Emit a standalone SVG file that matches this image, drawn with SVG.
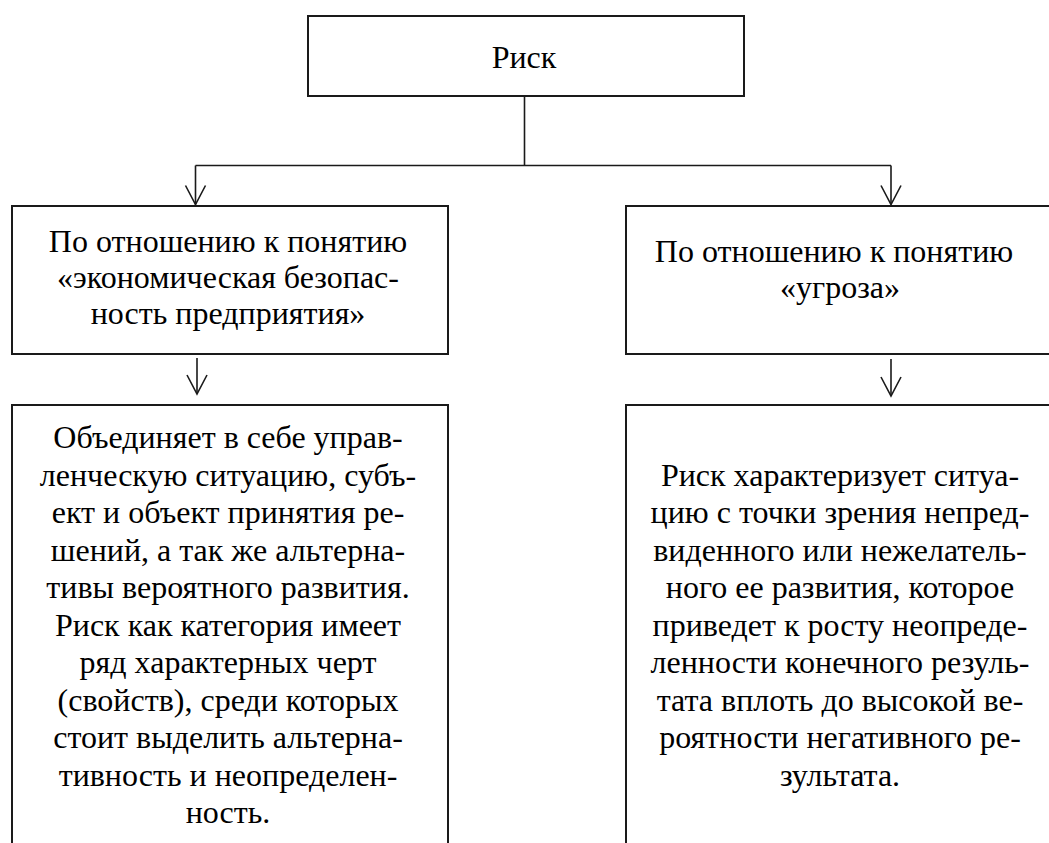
<svg xmlns="http://www.w3.org/2000/svg" width="1049" height="843" viewBox="0 0 1049 843">
<style>
.box{fill:#fff;stroke:#1a1a1a;stroke-width:2}
.c{fill:none;stroke:#1a1a1a;stroke-width:1.6}
</style>
<defs>
<marker id="ah" markerUnits="userSpaceOnUse" markerWidth="22" markerHeight="24" viewBox="-20 -11 22 22" refX="0" refY="0" orient="auto">
<path d="M-19,-10 L0,0 L-19,10" fill="none" stroke="#1a1a1a" stroke-width="1.6"/>
</marker>
</defs>
<rect width="1049" height="843" fill="#fff"/>
<g id="connectors">
<path class="c" d="M524.5,97 V165.5"/>
<path class="c" d="M195.5,165.5 H891"/>
<path class="c" d="M195.5,165.5 V204.5" marker-end="url(#ah)"/>
<path class="c" d="M891,165.5 V204.5" marker-end="url(#ah)"/>
<path class="c" d="M197,358 V394" marker-end="url(#ah)"/>
<path class="c" d="M891,359 V396" marker-end="url(#ah)"/>
</g>
<g id="risk">
<rect class="box" x="308" y="16" width="436" height="80"/>
<text x="524" y="67.5" style="font-family:'Liberation Serif',serif;font-size:32px;text-anchor:middle">Риск</text>
</g>
<g id="econ">
<rect class="box" x="12" y="206" width="436" height="148"/>
<text x="228" y="251.7" style="font-family:'Liberation Serif',serif;font-size:32px;text-anchor:middle">По отношению к понятию</text>
<text x="228" y="288" style="font-family:'Liberation Serif',serif;font-size:32px;text-anchor:middle">«экономическая безопас-</text>
<text x="228" y="324.3" style="font-family:'Liberation Serif',serif;font-size:32px;text-anchor:middle">ность предприятия»</text>
</g>
<g id="threat">
<rect class="box" x="626" y="206" width="440" height="148"/>
<text x="834" y="261.7" style="font-family:'Liberation Serif',serif;font-size:32px;text-anchor:middle">По отношению к понятию</text>
<text x="840" y="298.3" style="font-family:'Liberation Serif',serif;font-size:32px;text-anchor:middle">«угроза»</text>
</g>
<g id="econ-desc">
<rect class="box" x="12" y="405" width="436" height="460"/>
<text x="228" y="448.3" style="font-family:'Liberation Serif',serif;font-size:32px;text-anchor:middle">Объединяет в себе управ-</text>
<text x="228" y="485.8" style="font-family:'Liberation Serif',serif;font-size:32px;text-anchor:middle">ленческую ситуацию, субъ-</text>
<text x="228" y="523.3" style="font-family:'Liberation Serif',serif;font-size:32px;text-anchor:middle">ект и объект принятия ре-</text>
<text x="228" y="560.8" style="font-family:'Liberation Serif',serif;font-size:32px;text-anchor:middle">шений, а так же альтерна-</text>
<text x="228" y="598.3" style="font-family:'Liberation Serif',serif;font-size:32px;text-anchor:middle">тивы вероятного развития.</text>
<text x="228" y="635.8" style="font-family:'Liberation Serif',serif;font-size:32px;text-anchor:middle">Риск как категория имеет</text>
<text x="228" y="673.3" style="font-family:'Liberation Serif',serif;font-size:32px;text-anchor:middle">ряд характерных черт</text>
<text x="228" y="710.8" style="font-family:'Liberation Serif',serif;font-size:32px;text-anchor:middle">(свойств), среди которых</text>
<text x="228" y="748.3" style="font-family:'Liberation Serif',serif;font-size:32px;text-anchor:middle">стоит выделить альтерна-</text>
<text x="228" y="785.8" style="font-family:'Liberation Serif',serif;font-size:32px;text-anchor:middle">тивность и неопределен-</text>
<text x="228" y="823.3" style="font-family:'Liberation Serif',serif;font-size:32px;text-anchor:middle">ность.</text>
</g>
<g id="threat-desc">
<rect class="box" x="626" y="405" width="440" height="460"/>
<text x="840" y="485.7" style="font-family:'Liberation Serif',serif;font-size:32px;text-anchor:middle">Риск характеризует ситуа-</text>
<text x="840" y="523.2" style="font-family:'Liberation Serif',serif;font-size:32px;text-anchor:middle">цию с точки зрения непред-</text>
<text x="840" y="560.7" style="font-family:'Liberation Serif',serif;font-size:32px;text-anchor:middle">виденного или нежелатель-</text>
<text x="840" y="598.2" style="font-family:'Liberation Serif',serif;font-size:32px;text-anchor:middle">ного ее развития, которое</text>
<text x="840" y="635.7" style="font-family:'Liberation Serif',serif;font-size:32px;text-anchor:middle">приведет к росту неопреде-</text>
<text x="840" y="673.2" style="font-family:'Liberation Serif',serif;font-size:32px;text-anchor:middle">ленности конечного резуль-</text>
<text x="840" y="710.7" style="font-family:'Liberation Serif',serif;font-size:32px;text-anchor:middle">тата вплоть до высокой ве-</text>
<text x="840" y="748.2" style="font-family:'Liberation Serif',serif;font-size:32px;text-anchor:middle">роятности негативного ре-</text>
<text x="840" y="785.7" style="font-family:'Liberation Serif',serif;font-size:32px;text-anchor:middle">зультата.</text>
</g>
</svg>
